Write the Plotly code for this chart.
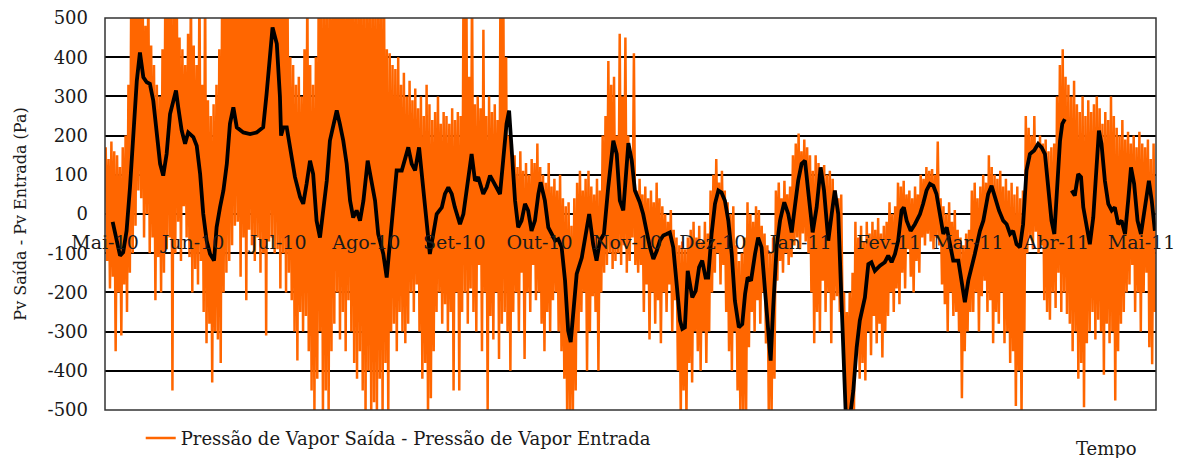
import pandas as pd
import plotly.graph_objects as go

# ---------------- data ----------------
start_date = "2010-05-01"

# daily upper / lower envelope of the raw (hourly) series, day 0 = 2010-05-01
orange_high = [
    170, 140, 185, 160, 150, 120, 170, 200, 330, 600,
    600, 600, 600, 600, 480, 600, 430, 380, 330, 300,
    420, 600, 600, 600, 600, 600, 450, 420, 380, 460,
    600, 430, 380, 600, 330, 600, 290, 250, 280, 330,
    420, 600, 600, 600, 600, 600, 600, 600, 600, 600,
    600, 600, 600, 600, 600, 600, 600, 600, 600, 600,
    600, 600, 600, 600, 600, 400, 380, 330, 350, 300,
    420, 600, 380, 330, 400, 600, 600, 600, 600, 600,
    600, 600, 600, 600, 600, 600, 600, 600, 600, 600,
    600, 600, 600, 600, 600, 600, 600, 600, 600, 420,
    410, 380, 370, 400, 330, 360, 300, 340, 290, 320,
    270, 300, 250, 330, 280, 240, 260, 300, 230, 260,
    250, 230, 270, 240, 260, 250, 600, 600, 350, 600,
    280, 300, 270, 470, 250, 300, 260, 280, 240, 600,
    600, 400, 200, 180, 150, 120, 160, 110, 130, 100,
    140, 130, 180, 120, 100, 80, 130, 70, 90, 60,
    100, 40, 20, 30, -30, 40, 80, 110, 60, 90,
    110, 70, 50, 90, 60, 200, 250, 390, 330, 350,
    200, 460, 300, 450, 200, 150, 410, 60, 90, 50,
    70, 40, 60, 30, 80, 40, 20, 0, -20, 10,
    -40, -60, -80, -70, -90, -60, -40, -20, -60, -30,
    -70, -20, -50, 60, 100, 140, 80, 110, 60, 30,
    0, 20, -80, -120, -100, -60, 30, 0, -20, 20,
    10, -30, -50, -80, -100, -60, 60, 80, 40, 85,
    50, 70, 150, 180, 205, 160, 190, 170, 150, 110,
    150, 130, 120, 125, 100, 110, 90, 60, 40, 50,
    -200, -250, -200, -150, -20, -60, -30, -70, -20, -50,
    -20, -40, -10, -50, -30, -20, 30, 0, 20, 80,
    70, 85, 50, 60, 40, 70, 50, 100, 90, 120,
    110, 115, 100, 185, 40, 20, 0, 30, -20, 10,
    -40, -60, -80, -50, -40, 60, 80, 40, 70, 100,
    80, 150, 120, 100, 90, 110, 70, 90, 60, 80,
    50, 70, 40, 60, 250, 220, 200, 250, 180, 200,
    180, 190, 160, 170, 180, 300, 380, 420, 350, 330,
    300, 340, 280, 260, 300, 250, 290, 260, 280, 300,
    270, 230, 260, 240, 300, 250, 220, 200, 240, 190,
    210, 180, 200, 170, 210, 180, 170, 190, 140, 180,
]
orange_low = [
    -120, -190, -160, -350, -200, -310, -180, -250, -150, -100,
    -30, 60, 40, -60, 0, -100, -60, -220, -110, -200,
    -150, -90, -60, -450, -100, -20, -120, 20, -60, -110,
    -200, -140, -180, -120, -250, -330, -280, -430, -300, -320,
    -380, -200, -150, -120, -80, -30, -20, -160, -60, -220,
    -40, -80, -120, -60, -150, -100, -310, -70, -60, -100,
    -90, -190, -100, -200, -150, -220, -300, -374, -250, -300,
    -260, -350, -450, -500, -420, -300, -520, -450, -520, -350,
    -280, -200, -320, -250, -350, -220, -300, -380, -420, -350,
    -450, -520, -400, -520, -480, -520, -420, -520, -380, -520,
    -300, -280, -350, -250, -300, -330, -280, -200, -250, -180,
    -300, -420, -380, -520, -470, -350, -250, -200, -280, -230,
    -300, -250, -450, -200, -450, -250, -200, -280, -190, -250,
    -300, -130, -350, -200, -500, -260, -320, -200, -370, -280,
    -250, -300, -400, -250, -200, -300, -150, -370, -200, -250,
    -130, -220, -200, -280, -350, -250, -300, -220, -200, -300,
    -350, -420, -520, -500, -520, -450, -300, -250, -200, -400,
    -300, -210, -250, -400, -200, -150, -130, -100, -140, -120,
    -100, -130, -80, -150, -120, -60, -130, -150, -130, -250,
    -180, -320, -200, -280, -220, -330, -200, -250, -180, -300,
    -220, -400, -520, -450, -520, -380, -430, -300, -350, -400,
    -300, -380, -300, -200, -150, -100, -180, -130, -250, -350,
    -400, -300, -450, -520, -500, -520, -340, -250, -300, -220,
    -280, -200, -330, -520, -500, -420, -170, -120, -150, -100,
    -130, -110, -80, -60, -90, -50, -70, -100, -200, -330,
    -250, -300, -170, -250, -200, -330, -220, -210, -250, -270,
    -520, -520, -520, -500, -340, -420, -380, -425, -300, -360,
    -260, -330, -280, -366, -300, -260, -200, -250, -190, -230,
    -150, -190, -90, -160, -200, -120, -150, -60, -80, -50,
    -70, -90, -60, -80, -180, -230, -300, -200, -260, -250,
    -300, -470, -350, -300, -250, -250, -200, -300, -210, -170,
    -250, -220, -330, -250, -280, -200, -330, -300, -380, -350,
    -490, -400, -520, -300, -100, -60, -90, -45, -100, -80,
    -220, -250, -270, -200, -240, -150, -250, -200, -255, -280,
    -350, -300, -420, -380, -493, -330, -300, -250, -320, -270,
    -300, -410, -280, -330, -300, -476, -350, -280, -250, -200,
    -180, -130, -250, -200, -300, -200, -150, -340, -383, -250,
]

# smoothed series (black): day offset from 2010-05-01 and value (Pa)
black_days = [
    2.7, 5.3, 6.4, 7.6, 8.8, 10.0, 11.2, 12.3, 13.5, 14.7, 15.8, 17.0, 18.2, 19.4,
    20.5, 21.7, 22.9, 24.0, 25.0, 25.8, 27.0, 28.2, 29.3, 31.1, 32.3, 33.5, 34.6,
    35.8, 37.0, 38.4, 39.3, 40.5, 41.7, 42.9, 44.0, 45.2, 46.4, 48.7, 51.1, 53.4,
    55.7, 56.9, 58.1, 59.0, 60.5, 61.6, 62.0, 62.8, 64.0, 65.1, 66.9, 68.7, 69.8,
    71.0, 72.2, 73.3, 74.5, 75.7, 76.9, 78.1, 79.2, 80.4, 81.6, 82.7, 83.9, 85.1,
    86.3, 87.4, 88.6, 89.8, 91.0, 92.5, 93.9, 95.1, 96.2, 98.0, 99.2, 100.4, 101.5,
    102.7, 104.5, 105.6, 106.8, 108.0, 109.2, 110.6, 111.5, 112.7, 114.4, 115.6,
    116.8, 118.6, 119.7, 120.9, 122.1, 123.2, 125.0, 126.2, 127.4, 128.5, 129.1,
    130.3, 131.4, 133.2, 134.4, 135.6, 137.3, 139.1, 140.2, 141.4, 142.3, 143.2,
    144.4, 145.5, 146.7, 147.9, 149.0, 150.2, 151.4, 152.6, 153.4, 154.9, 156.1,
    157.3, 158.5, 159.6, 160.8, 162.0, 163.1, 164.0, 164.9, 166.1, 167.9, 169.0,
    170.5, 171.9, 173.1, 174.3, 175.7, 177.2, 179.0, 180.2, 181.3, 182.5, 184.3,
    185.5, 186.6, 188.3, 189.5, 190.7, 191.9, 193.1, 194.3, 195.4, 196.6, 197.8,
    198.9, 200.1, 201.3, 202.5, 203.3, 204.2, 205.2, 206.0, 206.8, 208.0, 209.2,
    210.3, 211.5, 212.4, 213.6, 214.8, 216.0, 217.1, 218.3, 219.5, 220.7, 221.8,
    223.2, 224.4, 225.4, 226.3, 227.5, 228.9, 230.0, 231.2, 232.4, 233.6, 234.4,
    235.3, 236.5, 237.7, 239.2, 240.6, 241.8, 242.9, 244.1, 245.3, 246.5, 247.6,
    249.2, 250.6, 252.0, 253.2, 254.7, 255.9, 257.0, 258.2, 259.0, 260.0, 260.9,
    262.3, 263.5, 264.7, 265.8, 267.6, 268.8, 269.9, 271.1, 272.9, 274.6, 275.8,
    277.0, 278.2, 279.3, 280.5, 281.3, 282.3, 283.7, 285.2, 287.0, 288.1, 289.3,
    290.5, 291.7, 292.8, 294.0, 295.2, 296.4, 297.5, 298.7, 300.5, 301.6, 302.8,
    304.0, 305.2, 306.3, 308.1, 309.3, 311.0, 312.2, 313.4, 314.8, 316.3, 317.5,
    318.7, 319.8, 321.0, 322.2, 323.3, 324.5, 325.7, 327.2, 328.6, 329.8, 331.0,
    332.2, 333.3, 334.3, 335.1, 336.3, 337.1, 338.0, 339.2, 340.4, 341.5, 342.7,
    343.7, 344.5, 345.7, 346.8, 348.0, 349.2, 350.0, 350.9, 352.1, 353.3, 354.5,
    355.6, 356.8, 358.0, 359.2, 360.3, 361.3, 362.4, 363.6, 364.8, 366.2, 367.6,
    368.6, 369.7,
]
black_values = [
    -20, -106, -98, -43, 68, 213, 340, 412, 349, 336, 332, 289, 196, 128,
    98, 153, 255, 289, 315, 272, 213, 179, 208, 196, 174, 102, 0,
    -68, -102, -119, -34, 17, 60, 128, 230, 272, 221, 208, 204, 208,
    221, 306, 408, 476, 434, 300, 200, 221, 221, 170, 94, 43, 26,
    77, 136, 102, -17, -60, 17, 85, 187, 230, 264, 230, 187, 128,
    34, -9, 9, -17, 34, 136, 85, 34, -51, -102, -162, -68, 43,
    111, 111, 136, 170, 128, 111, 170, 102, 17, -102, -51,
    0, 17, 51, 68, 51, 17, -26, 0, 68, 136, 153,
    85, 94, 51, 68, 98, 77, 51, 136, 230, 264, 170,
    34, -34, -17, 26, 9, -43, -17, 51, 81, 34, -34,
    -51, -68, -64, -85, -170, -298, -327, -255, -153, -111, -68,
    0, -77, -119, -68, -51, 68, 187, 153, 34, 9, 181,
    136, 60, 30, 0, -43, -85, -115, -94, -68, -55, -51,
    -47, -85, -170, -272, -293, -289, -145, -187, -213, -196, -136,
    -119, -162, -162, -51, 26, 60, 55, 34, -17, -102, -221,
    -289, -281, -204, -162, -170, -102, -60, -85, -204, -323, -374,
    -238, -85, -17, 30, 0, -47, 17, 85, 128, 136, 60,
    -47, 17, 119, 60, -68, 0, 60, 0, -170, -383, -520,
    -520, -451, -340, -272, -213, -128, -123, -145, -132, -123, -106,
    -123, -102, -68, 9, 17, -17, -43, -26, 0, 26, 60,
    77, 72, 51, 0, -51, -34, -77, -119, -119, -170, -225,
    -170, -136, -102, -43, -17, 51, 72, 43, 9, -17, -26,
    -51, -43, -77, -85, -26, 111, 153, 162, 179, 170, 153,
    68, -17, -51, 43, 187, 230, 242, None, 60, 47, 102,
    94, 17, -34, -77, -9, 128, 213, 179, 85, 26, 9,
    17, -26, -17, -51, 34, 119, 77, -17, -51, 17, 85,
    34, -43,
]

month_ticks = ["2010-05-01", "2010-06-01", "2010-07-01", "2010-08-01", "2010-09-01",
               "2010-10-01", "2010-11-01", "2010-12-01", "2011-01-01", "2011-02-01",
               "2011-03-01", "2011-04-01", "2011-05-01"]
month_labels = ["Mai-10", "Jun-10", "Jul-10", "Ago-10", "Set-10", "Out-10", "Nov-10",
                "Dez-10", "Jan-11", "Fev-11", "Mar-11", "Abr-11", "Mai-11"]
y_ticks = [500, 400, 300, 200, 100, 0, -100, -200, -300, -400, -500]
y_labels = ["500", "400", "300", "200", "100", "0", "-100", "-200", "-300", "-400", "-500"]

series_name = "Pressão de Vapor Saída - Pressão de Vapor Entrada"
y_title = "Pv Saída - Pv Entrada (Pa)"
x_title = "Tempo"

# ---------------- build traces ----------------
base = pd.Timestamp(start_date)
orange_x, orange_y = [], []
for i, (hi, lo) in enumerate(zip(orange_high, orange_low)):
    orange_x += [base + pd.Timedelta(days=i + 0.25), base + pd.Timedelta(days=i + 0.75)]
    orange_y += [hi, lo]
black_x = [base + pd.Timedelta(days=d) for d in black_days]

FONT = "DejaVu Serif"
TXT = "#1a1a1a"
fig = go.Figure()
fig.add_trace(go.Scatter(x=orange_x, y=orange_y, mode="lines", name=series_name,
                         line=dict(color="#FF6600", width=2.5)))
fig.add_trace(go.Scatter(x=black_x, y=black_values, mode="lines", showlegend=False,
                         connectgaps=False, line=dict(color="#000000", width=3.8)))

# the page body adds an 8 px offset, so the figure is 8 px smaller than the window
fig.update_layout(
    width=1174, height=450,
    margin=dict(l=97, r=26, t=10, b=48, autoexpand=False),
    plot_bgcolor="white", paper_bgcolor="white",
    font=dict(family=FONT, size=16, color=TXT),
    showlegend=True,
    legend=dict(orientation="h", x=0.034, y=-0.025, xanchor="left", yanchor="top",
                bgcolor="rgba(0,0,0,0)", font=dict(size=18, family=FONT, color=TXT)),
    xaxis=dict(type="date",
               range=[base, base + pd.Timedelta(days=370.1)],
               tickmode="array", tickvals=month_ticks, ticktext=month_labels,
               showgrid=False, zeroline=False, showline=False, ticks="",
               anchor="free", position=0.462, ticklabeloverflow="allow",
               tickfont=dict(size=19, family=FONT, color=TXT)),
    yaxis=dict(range=[-500, 500], tickmode="array", tickvals=y_ticks, ticktext=y_labels,
               showgrid=True, gridcolor="#000000", gridwidth=1.5, zeroline=False,
               showline=False, ticks="", ticklabelstandoff=16, ticklabeloverflow="allow",
               tickfont=dict(size=18, family=FONT, color=TXT),
               title=dict(text=y_title, standoff=16, font=dict(size=16, family=FONT, color=TXT))),
    shapes=[dict(type="rect", xref="paper", yref="paper", x0=0, x1=1, y0=0, y1=1,
                 line=dict(color="#333333", width=1.5), layer="above")],
    annotations=[dict(text=x_title, xref="paper", yref="paper", x=0.953, y=-0.097,
                      showarrow=False, xanchor="center", yanchor="middle",
                      font=dict(size=18, family=FONT, color=TXT))],
)

fig.write_html("out.html")
